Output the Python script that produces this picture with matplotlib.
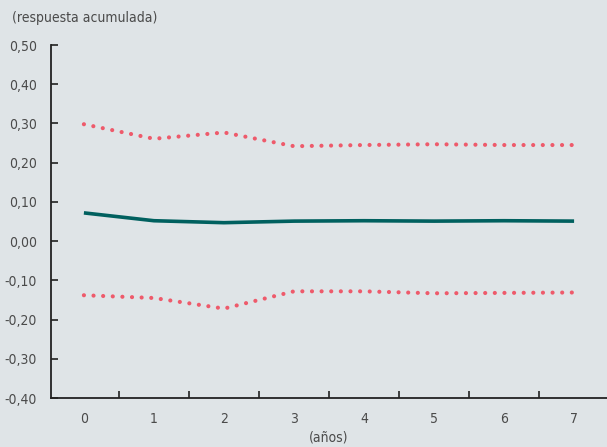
import matplotlib.pyplot as plt
import numpy as np

plt.rcParams['font.family'] = ['DejaVu Sans']
plt.rcParams['font.stretch'] = 'condensed'

years = [0, 1, 2, 3, 4, 5, 6, 7]
respuesta = [0.072, 0.052, 0.047, 0.051, 0.052, 0.051, 0.052, 0.051]
banda_sup = [0.298, 0.261, 0.277, 0.242, 0.245, 0.247, 0.245, 0.245]
banda_inf = [-0.138, -0.145, -0.172, -0.128, -0.128, -0.133, -0.132, -0.131]
y_ticks = np.arange(-0.4, 0.51, 0.1)

bg = '#dfe4e7'
txt = '#4a4a4a'

fig = plt.figure(figsize=(6.07, 4.47), dpi=100, facecolor=bg)
ax = fig.add_axes([0.084, 0.1096, 0.916, 0.7897], facecolor=bg)

ax.plot(years, respuesta, color='#00605f', lw=2.6, solid_capstyle='butt')
for band in (banda_sup, banda_inf):
    ax.plot(years, band, color='#ee5a6b', lw=3.0, linestyle=(0, (0.01, 2.3)),
            dash_capstyle='round')

ax.set_xlim(-0.47, 7.47)
ax.set_ylim(-0.4, 0.5)
ax.set_yticks(y_ticks)
ax.set_yticklabels([f'{v:.2f}'.replace('.', ',').replace('-0,00', '0,00') for v in y_ticks])
ax.set_xticks(years)
ax.set_xticklabels([str(v) for v in years])
ax.set_xticks(np.arange(0.5, 7, 1), minor=True)

for s in ('top', 'right'):
    ax.spines[s].set_visible(False)
for s in ('left', 'bottom'):
    ax.spines[s].set_color('#222222')
    ax.spines[s].set_linewidth(1.3)

ax.tick_params(axis='y', direction='in', length=5, width=1.2, color='#222222',
               labelsize=10, labelcolor=txt, pad=10)
ax.tick_params(axis='x', which='major', length=0, labelsize=10, labelcolor=txt, pad=10)
ax.tick_params(axis='x', which='minor', direction='in', length=5, width=1.2, color='#222222')

fig.text(0.02, 0.96, '(respuesta acumulada)', fontsize=10, color=txt, va='center')
ax.set_xlabel('(años)', fontsize=10, color=txt, labelpad=3)

fig.savefig('out.png', dpi=100, facecolor=bg)
